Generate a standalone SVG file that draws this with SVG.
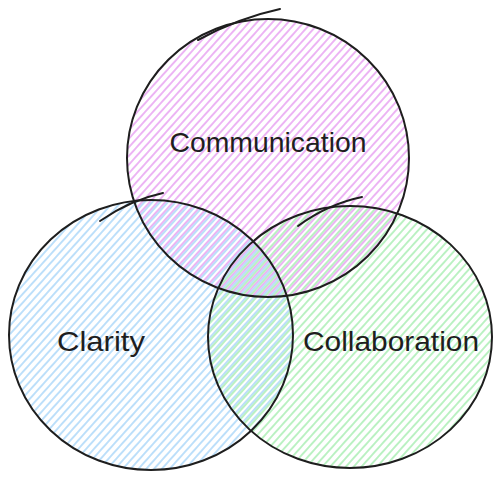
<svg xmlns="http://www.w3.org/2000/svg" width="500" height="477" viewBox="0 0 500 477">
  <defs>
    <pattern id="hPink" patternUnits="userSpaceOnUse" width="12" height="5.8" patternTransform="rotate(-48)">
      <line x1="0" y1="2.9" x2="12" y2="2.9" stroke="#dd7aec" stroke-width="1.1"/>
    </pattern>
    <pattern id="hBlue" patternUnits="userSpaceOnUse" width="12" height="5.8" patternTransform="rotate(-48) translate(0 1.9)">
      <line x1="0" y1="2.9" x2="12" y2="2.9" stroke="#88c6f6" stroke-width="1.1"/>
    </pattern>
    <pattern id="hGreen" patternUnits="userSpaceOnUse" width="12" height="5.8" patternTransform="rotate(-48) translate(0 3.8)">
      <line x1="0" y1="2.9" x2="12" y2="2.9" stroke="#86e794" stroke-width="1.1"/>
    </pattern>
  </defs>
  <style>
    .outline { fill: none; stroke: #1e1e1e; stroke-width: 2; stroke-linecap: round; }
    .label { font-family: "Liberation Sans", "DejaVu Sans", sans-serif; font-size: 28px; fill: #1e1e1e; text-anchor: middle; }
  </style>
  <rect width="500" height="477" fill="#ffffff"/>
  <g id="hatch-fills">
    <ellipse id="communication-fill" cx="268" cy="158" rx="141" ry="139" fill="url(#hPink)"/>
    <ellipse id="clarity-fill" cx="151" cy="335" rx="142" ry="135" fill="url(#hBlue)"/>
    <ellipse id="collaboration-fill" cx="350" cy="337" rx="142" ry="131" fill="url(#hGreen)"/>
  </g>
  <g id="communication">
    <ellipse class="outline" cx="268" cy="158" rx="141" ry="139"/>
    <path class="outline" d="M 198 40 Q 238 18 280 9"/>
    <text class="label" x="268" y="152" textLength="197" lengthAdjust="spacingAndGlyphs">Communication</text>
  </g>
  <g id="clarity">
    <ellipse class="outline" cx="151" cy="335" rx="142" ry="135"/>
    <path class="outline" d="M 100 221 Q 130 200 163 193"/>
    <text class="label" x="101" y="351" textLength="88" lengthAdjust="spacingAndGlyphs">Clarity</text>
  </g>
  <g id="collaboration">
    <ellipse class="outline" cx="350" cy="337" rx="142" ry="131"/>
    <path class="outline" d="M 298 226 Q 328 204 362 197"/>
    <text class="label" x="391" y="351" textLength="176" lengthAdjust="spacingAndGlyphs">Collaboration</text>
  </g>
  <g id="connectors"></g>
</svg>
